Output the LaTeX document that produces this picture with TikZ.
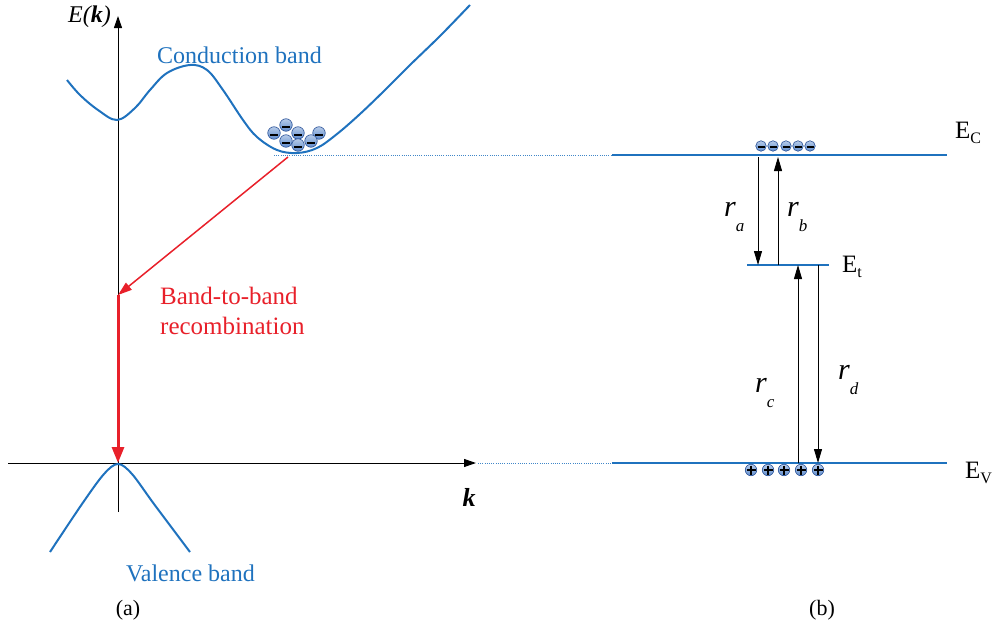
\documentclass[tikz,border=0pt]{standalone}
\usepackage{fontspec}
\setmainfont{Liberation Serif}
\usetikzlibrary{arrows.meta,calc}
\definecolor{bandblue}{RGB}{31,114,190}
\definecolor{recred}{RGB}{232,32,42}
\definecolor{ballfill}{RGB}{95,140,205}
\definecolor{balledge}{RGB}{40,80,150}
\begin{document}
\begin{tikzpicture}[x=1pt,y=-1pt,
  axis/.style={black, line width=1pt, -{Triangle[length=12pt,width=8pt]}},
  band/.style={bandblue, line width=2pt},
  level/.style={bandblue, line width=2pt},
  guide/.style={bandblue!85, line width=0.9pt, dash pattern=on 1pt off 1.2pt},
  rec/.style={recred, line width=1.5pt, -{Triangle[length=14pt,width=9pt]}},
  trans/.style={black, line width=0.9pt, -{Triangle[length=14pt,width=8pt]}},
  bluelbl/.style={bandblue, font=\fontsize{24}{28}\selectfont},
  redlbl/.style={recred, font=\fontsize{25}{29.5}\selectfont, align=left},
  elbl/.style={font=\fontsize{25}{28}\selectfont},
  rlbl/.style={font=\itshape\fontsize{30}{34}\selectfont},
  caption/.style={font=\fontsize{22}{25}\selectfont},
  ball/.style={circle, minimum size=#1, inner sep=0pt, draw=balledge, line width=0.6pt, top color=ballfill!45, bottom color=ballfill},
]
\useasboundingbox (0,0) rectangle (997,632);
% axes
\coordinate (ybot) at (118,512);
\coordinate (ytop) at (118,16);
\coordinate (xl) at (8,463);
\coordinate (xr) at (476,463);
\draw[axis] (ybot) -- (ytop);
\draw[axis] (xl) -- (xr);
\node[anchor=east, font=\itshape\fontsize{24}{28}\selectfont, inner sep=0pt] (Ek) at (111,17) {E(\textbf{\textit{k}})};
\node[font=\bfseries\itshape\fontsize{26}{28}\selectfont] (klbl) at (469,497) {k};
% conduction band
\draw[band] plot[smooth, tension=0.6] coordinates {(67,80) (80,95) (98,110) (117,120) (135,108) (150,90) (167,73) (190,65) (207,70) (223,90) (243,120) (257,137) (277,150) (297,153) (317,148) (337,134) (360,114) (385,90) (410,65) (440,36) (470,5)};
\node[bluelbl, anchor=base west, inner sep=0pt] (cb) at (157,63) {Conduction band};
% valence band
\draw[band] plot[smooth, tension=0.55] coordinates {(50,552) (82,504) (104,474) (118,464) (132,474) (154,504) (190,552)};
\node[bluelbl, anchor=base west, inner sep=0pt] (vb) at (126,581) {Valence band};
% guides
\coordinate (gc1) at (274,155);
\coordinate (gc2) at (612,155);
\coordinate (gv1) at (478,463);
\coordinate (gv2) at (612,463);
\draw[guide] (gc1) -- (gc2);
\draw[guide] (gv1) -- (gv2);
% recombination
\coordinate (rs) at (288,157);
\coordinate (rm) at (118,295);
\coordinate (re) at (118,463);
\draw[rec] (rs) -- (rm);
\draw[recred, line width=3pt, -{Triangle[length=16pt,width=12pt]}] (rm) -- (re);
\node[redlbl, anchor=base west, inner sep=0pt] (recl) at (160,334) {Band-to-band\\recombination};
% electrons in CB
\foreach \n/\x/\y in {e1/274/133, e2/286/125, e3/298/133, e4/319/133, e5/286/141, e6/298/145, e7/311/141}{
  \node[ball=12.5pt] (\n) at (\x,\y) {};
  \draw[black, line width=2pt] ($(\n)+(-4,2)$) -- ($(\n)+(4,2)$);
}
% right diagram levels
\coordinate (ecl) at (612,155); \coordinate (ecr) at (947,155);
\coordinate (etl) at (747,265); \coordinate (etr) at (829,265);
\coordinate (evl) at (612,463); \coordinate (evr) at (947,463);
\draw[level] (ecl) -- (ecr);
\draw[level] (etl) -- (etr);
\draw[level] (evl) -- (evr);
\node[elbl, anchor=base west, inner sep=0pt] (EC) at (955,138) {E\raisebox{-0.45ex}{\fontsize{16}{18}\selectfont C}};
\node[elbl, anchor=base west, inner sep=0pt] (Et) at (842,272) {E\raisebox{-0.45ex}{\fontsize{16}{18}\selectfont t}};
\node[elbl, anchor=base west, inner sep=0pt] (EV) at (965,478) {E\raisebox{-0.45ex}{\fontsize{16}{18}\selectfont V}};
% electrons at EC
\foreach \n/\x in {c1/761, c2/773, c3/786, c4/798, c5/810}{
  \node[ball=10.5pt] (\n) at (\x,146) {};
  \draw[black, line width=1.6pt] ($(\n)+(-3.5,1)$) -- ($(\n)+(3.5,1)$);
}
% holes at EV
\foreach \n/\x in {h1/751, h2/768, h3/784, h4/801, h5/818}{
  \node[ball=11.5pt] (\n) at (\x,470) {};
  \draw[black, line width=1.4pt] ($(\n)+(-4.5,0)$) -- ($(\n)+(4.5,0)$);
  \draw[black, line width=1.4pt] ($(\n)+(0,-4.5)$) -- ($(\n)+(0,4.5)$);
}
% transitions
\coordinate (ra1) at (758,157); \coordinate (ra2) at (758,265);
\coordinate (rb1) at (778,265); \coordinate (rb2) at (778,157);
\coordinate (rc1) at (798,463); \coordinate (rc2) at (798,265);
\coordinate (rd1) at (818,265); \coordinate (rd2) at (818,463);
\draw[trans] (ra1) -- (ra2);
\draw[trans] (rb1) -- (rb2);
\draw[trans] (rc1) -- (rc2);
\draw[trans] (rd1) -- (rd2);
\node[rlbl, anchor=base west, inner sep=0pt] (lra) at (724,216) {r\raisebox{-1.1ex}{\fontsize{17}{19}\selectfont a}};
\node[rlbl, anchor=base west, inner sep=0pt] (lrb) at (787,216) {r\raisebox{-1.1ex}{\fontsize{17}{19}\selectfont b}};
\node[rlbl, anchor=base west, inner sep=0pt] (lrc) at (755,392) {r\raisebox{-1.1ex}{\fontsize{17}{19}\selectfont c}};
\node[rlbl, anchor=base west, inner sep=0pt] (lrd) at (838,379) {r\raisebox{-1.1ex}{\fontsize{17}{19}\selectfont d}};
% captions
\node[caption] (capa) at (128,610) {(a)};
\node[caption] (capb) at (822,610) {(b)};
\end{tikzpicture}
\end{document}
